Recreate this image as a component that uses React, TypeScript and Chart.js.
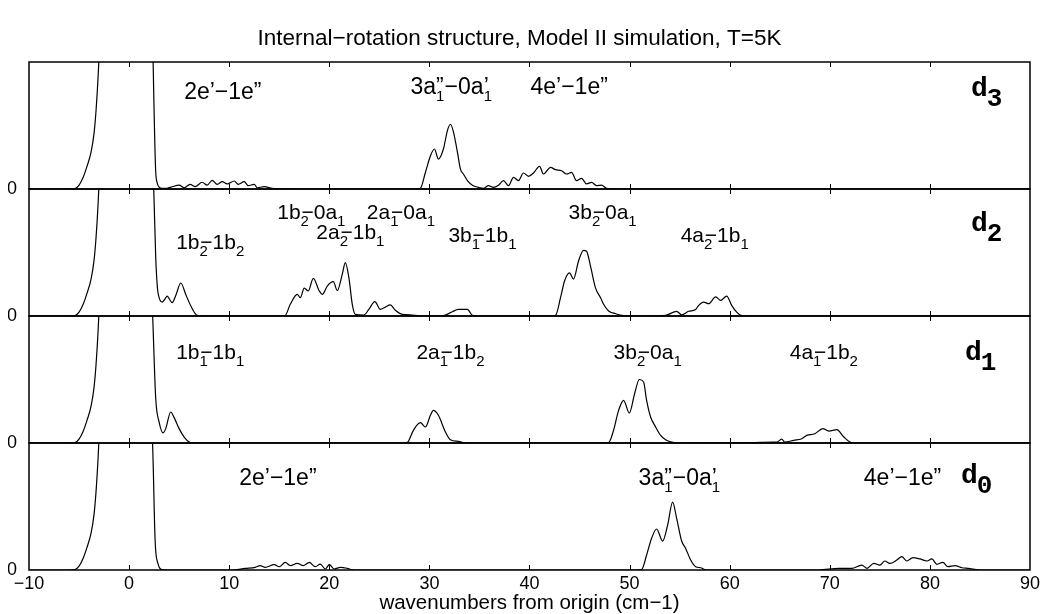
import React, { useEffect, useRef } from 'react';
import { Chart, registerables } from 'chart.js';

Chart.register(...registerables);

const SANS = "'Liberation Sans', Arial, Helvetica, sans-serif";
const MONO = "'Liberation Mono', 'DejaVu Sans Mono', monospace";

const titleText = 'Internal\u2212rotation structure, Model II simulation, T=5K';
const xAxisTitle = 'wavenumbers from origin (cm\u22121)';
const xTickValues = [-10, 0, 10, 20, 30, 40, 50, 60, 70, 80, 90];
const panelNames = ['d3', 'd2', 'd1', 'd0'];
const panelSubscripts = ['3', '2', '1', '0'];

// spectra: [wavenumber, intensity (fraction of panel height)]
const d3Spectrum: [number, number][] = [
  [-10, 0], [-6, 0], [-5.4, 0.004], [-5.0, 0.03], [-4.6, 0.09], [-4.2, 0.18], [-3.8, 0.29], [-3.5, 0.44],
  [-3.3, 0.62], [-3.1, 0.88], [-2.9, 1.25], [-2.5, 2.4], [0, 5], [1.8, 3], [2.3, 1.4], [2.5, 0.6],
  [2.65, 0.15], [2.8, 0.05], [3.0, 0.015], [3.3, 0.005], [3.8, 0.006], [4.3, 0.018], [5.0, 0.03], [5.5, 0.01],
  [6.1, 0.037], [6.6, 0.018], [7.3, 0.053], [7.8, 0.03], [8.3, 0.068], [8.8, 0.037], [9.3, 0.058], [9.8, 0.04],
  [10.5, 0.063], [10.9, 0.037], [11.5, 0.058], [11.9, 0.026], [12.5, 0.037], [12.8, 0.01], [13.5, 0.018],
  [14.3, 0.005], [15.0, 0.002], [18.0, 0], [28.6, 0], [29.1, 0.005], [29.6, 0.13], [30.1, 0.26], [30.5, 0.315],
  [30.9, 0.236], [31.4, 0.315], [31.8, 0.46], [32.1, 0.51], [32.4, 0.45], [32.8, 0.29], [33.1, 0.157],
  [33.4, 0.118], [33.8, 0.066], [34.3, 0.03], [34.9, 0.013], [35.4, 0.005], [35.9, 0.026], [36.4, 0.013],
  [36.9, 0.03], [37.4, 0.066], [37.9, 0.026], [38.4, 0.092], [38.9, 0.066], [39.4, 0.126], [39.9, 0.1],
  [40.4, 0.126], [41.0, 0.178], [41.4, 0.118], [42.1, 0.17], [42.6, 0.152], [43.2, 0.144], [43.7, 0.118],
  [44.2, 0.131], [44.7, 0.066], [45.2, 0.084], [45.7, 0.04], [46.2, 0.052], [46.7, 0.026], [47.2, 0.03],
  [47.7, 0.005], [48.6, 0], [90, 0],
];

const d2Spectrum: [number, number][] = [
  [-10, 0], [-6, 0], [-5.4, 0.004], [-5.0, 0.03], [-4.6, 0.09], [-4.2, 0.18], [-3.8, 0.29], [-3.5, 0.44],
  [-3.3, 0.62], [-3.1, 0.88], [-2.9, 1.25], [-2.5, 2.4], [0, 5], [1.8, 3], [2.3, 1.4], [2.5, 0.9],
  [2.66, 0.46], [2.83, 0.22], [3.0, 0.145], [3.3, 0.11], [3.55, 0.13], [3.8, 0.157], [4.05, 0.13], [4.3, 0.105],
  [4.7, 0.17], [5.16, 0.26], [5.66, 0.17], [6.16, 0.08], [6.8, 0.005], [7.5, 0], [15.0, 0], [15.57, 0.003],
  [16.1, 0.092], [16.8, 0.17], [17.1, 0.144], [17.5, 0.22], [17.9, 0.197], [18.4, 0.297], [19.0, 0.197],
  [19.3, 0.17], [19.8, 0.236], [20.4, 0.27], [20.8, 0.2], [21.3, 0.33], [21.6, 0.42], [21.96, 0.3], [22.3, 0.09],
  [22.6, 0.013], [23.45, 0.008], [23.95, 0.052], [24.55, 0.113], [25.1, 0.052], [25.6, 0.07], [26.1, 0.087],
  [26.6, 0.045], [27.3, 0.013], [28.3, 0.008], [29.5, 0], [31.0, 0], [31.6, 0.008], [32.3, 0.034], [32.9, 0.052],
  [33.8, 0.052], [34.3, 0.005], [35.0, 0], [42.2, 0], [42.6, 0.005], [43.1, 0.144], [43.5, 0.276], [44.0, 0.34],
  [44.4, 0.29], [44.9, 0.433], [45.4, 0.517], [45.7, 0.51], [46.1, 0.39], [46.6, 0.22], [47.1, 0.144],
  [47.4, 0.092], [47.9, 0.04], [48.6, 0.018], [49.2, 0.005], [50.0, 0], [52.0, 0], [53.6, 0.005], [54.7, 0.037],
  [55.2, 0.01], [55.9, 0.037], [56.6, 0.052], [56.9, 0.084], [57.4, 0.11], [57.9, 0.097], [58.6, 0.15],
  [59.1, 0.123], [59.7, 0.157], [60.2, 0.084], [60.7, 0.03], [61.2, 0.003], [62.0, 0], [90, 0],
];

const d1Spectrum: [number, number][] = [
  [-10, 0], [-6, 0], [-5.4, 0.004], [-5.0, 0.03], [-4.6, 0.09], [-4.2, 0.18], [-3.8, 0.29], [-3.5, 0.44],
  [-3.3, 0.62], [-3.1, 0.88], [-2.9, 1.25], [-2.5, 2.4], [0, 5], [1.8, 3], [2.2, 1.4], [2.4, 0.9],
  [2.66, 0.35], [3.0, 0.165], [3.4, 0.08], [3.66, 0.113], [4.16, 0.244], [4.5, 0.2], [5.0, 0.113], [5.5, 0.047],
  [6.0, 0.008], [6.5, 0], [27.3, 0], [27.8, 0.005], [28.4, 0.1], [29.1, 0.16], [29.6, 0.126], [30.1, 0.218],
  [30.4, 0.257], [30.9, 0.218], [31.6, 0.087], [32.1, 0.026], [32.9, 0.013], [33.6, 0], [47.4, 0], [47.9, 0.003],
  [48.4, 0.1], [48.9, 0.257], [49.4, 0.336], [49.97, 0.236], [50.5, 0.388], [50.97, 0.5], [51.4, 0.48],
  [51.7, 0.336], [52.1, 0.205], [52.6, 0.126], [53.1, 0.06], [53.6, 0.026], [54.2, 0.008], [55.0, 0],
  [62.2, 0.003], [64.2, 0.008], [64.7, 0.008], [65.2, 0.03], [65.5, 0.008], [66.4, 0.021], [67.2, 0.034],
  [67.7, 0.06], [68.5, 0.073], [69.3, 0.113], [69.9, 0.094], [70.7, 0.105], [71.4, 0.047], [72.0, 0.008],
  [72.6, 0], [90, 0],
];

const d0Spectrum: [number, number][] = [
  [-10, 0], [-6, 0], [-5.4, 0.004], [-5.0, 0.03], [-4.6, 0.09], [-4.2, 0.18], [-3.8, 0.29], [-3.5, 0.44],
  [-3.3, 0.62], [-3.1, 0.88], [-2.9, 1.25], [-2.5, 2.4], [0, 5], [1.8, 3], [2.2, 1.4], [2.4, 0.85],
  [2.6, 0.23], [2.9, 0.047], [3.3, 0.003], [3.8, 0], [10.3, 0], [11.6, 0.013], [12.6, 0.021], [13.1, 0.034],
  [13.6, 0.021], [14.5, 0.042], [15.0, 0.026], [15.6, 0.06], [16.1, 0.034], [16.8, 0.052], [17.4, 0.034],
  [18.0, 0.06], [18.6, 0.026], [19.1, 0.047], [19.6, 0.008], [20.0, 0.042], [20.5, 0.008], [21.1, 0.021],
  [21.8, 0.013], [22.3, 0.002], [23.0, 0], [50.7, 0], [51.2, 0.003], [51.7, 0.118], [52.2, 0.25], [52.7, 0.323],
  [53.3, 0.228], [53.8, 0.354], [54.3, 0.535], [54.7, 0.407], [55.2, 0.228], [55.6, 0.17], [56.1, 0.079],
  [56.6, 0.026], [57.1, 0.018], [57.6, 0.002], [58.5, 0], [68.9, 0], [70.9, 0.013], [72.2, 0.013],
  [73.2, 0.039], [73.7, 0.013], [74.4, 0.052], [75.0, 0.039], [75.5, 0.071], [76.0, 0.052], [76.7, 0.079],
  [77.2, 0.105], [77.7, 0.071], [78.3, 0.097], [79.0, 0.087], [79.7, 0.071], [80.2, 0.087], [80.7, 0.045],
  [81.3, 0.06], [81.8, 0.026], [82.5, 0.034], [83.2, 0.018], [83.8, 0.013], [85.2, 0], [90, 0],
];

const spectra = [d3Spectrum, d2Spectrum, d1Spectrum, d0Spectrum];

// transition labels: "_" = next char subscript, "^" = next char stacked above the preceding subscript
const d3Labels = ['2e\u2019\u22121e\u201D', '3a_1^\u201D\u22120a_1^\u2019', '4e\u2019\u22121e\u201D'];
const d2Labels = ['1b_2\u22121b_2', '1b_2\u22120a_1', '2a_1\u22120a_1', '2a_2\u22121b_1', '3b_1\u22121b_1', '3b_2\u22120a_1', '4a_2\u22121b_1'];
const d1Labels = ['1b_1\u22121b_1', '2a_1\u22121b_2', '3b_2\u22120a_1', '4a_1\u22121b_2'];
const d0Labels = ['2e\u2019\u22121e\u201D', '3a_1^\u201D\u22120a_1^\u2019', '4e\u2019\u22121e\u201D'];
const panelLabels = [d3Labels, d2Labels, d1Labels, d0Labels];

// label placement (left edge in cm-1, baseline as fraction of panel height) and font size per panel
const labelPlacement = [
  [[5.5, 0.71], [28.1, 0.745], [40.1, 0.745]],
  [[4.7, 0.53], [14.8, 0.766], [23.75, 0.766], [18.7, 0.61], [31.9, 0.586], [43.9, 0.766], [55.1, 0.586]],
  [[4.7, 0.664], [28.7, 0.664], [48.4, 0.664], [66.0, 0.664]],
  [[11.0, 0.67], [50.9, 0.67], [73.4, 0.67]],
];
const labelFontSize = [23, 21, 21, 23];
const tagPlacement = [[84.1, 0.736], [84.1, 0.67], [83.5, 0.65], [83.1, 0.685]];

const SUB_SIZE = 15;

function drawRich(ctx: CanvasRenderingContext2D, text: string, x: number, y: number, size: number) {
  const mainFont = `${size}px ${SANS}`;
  const subFont = `${SUB_SIZE}px ${SANS}`;
  let cx = x;
  let i = 0;
  while (i < text.length) {
    const c = text[i];
    if (c === '_') {
      const sub = text[i + 1];
      i += 2;
      let sup = '';
      if (text[i] === '^') {
        sup = text[i + 1];
        i += 2;
      }
      ctx.font = subFont;
      const sw = ctx.measureText(sub).width;
      ctx.fillText(sub, cx, y + 7);
      let adv = i >= text.length ? sw : sw * 0.1;
      if (sup) {
        ctx.font = mainFont;
        ctx.fillText(sup, cx, y);
        adv = Math.max(adv, ctx.measureText(sup).width + 1);
      }
      cx += adv;
    } else {
      ctx.font = mainFont;
      ctx.fillText(c, cx, y);
      cx += ctx.measureText(c).width;
      i += 1;
    }
  }
}

const decorPlugin = {
  id: 'panelDecor',
  afterDatasetsDraw(chart: any) {
    const ctx: CanvasRenderingContext2D = chart.ctx;
    const xs = chart.scales.x;
    ctx.save();
    ctx.strokeStyle = '#000';
    ctx.fillStyle = '#000';
    panelNames.forEach((id, p) => {
      const ys = chart.scales[id];
      ctx.lineWidth = 1.5;
      ctx.strokeRect(xs.left, ys.top, xs.right - xs.left, ys.bottom - ys.top);
      ctx.lineWidth = 1;
      ctx.beginPath();
      xs.ticks.forEach((t: any) => {
        if (t.value <= xs.min || t.value >= xs.max) return;
        const px = Math.round(xs.getPixelForValue(t.value)) + 0.5;
        ctx.moveTo(px, ys.bottom);
        ctx.lineTo(px, ys.bottom - 5);
        ctx.moveTo(px, ys.top);
        ctx.lineTo(px, ys.top + 5);
      });
      ctx.stroke();

      ctx.textBaseline = 'alphabetic';
      ctx.textAlign = 'left';
      panelLabels[p].forEach((txt, k) => {
        const [lx, ly] = labelPlacement[p][k];
        drawRich(ctx, txt, xs.getPixelForValue(lx), ys.getPixelForValue(ly), labelFontSize[p]);
      });

      const [tx, ty] = tagPlacement[p];
      const px = xs.getPixelForValue(tx);
      const py = ys.getPixelForValue(ty);
      ctx.font = `bold 28px ${MONO}`;
      ctx.fillText('d', px, py);
      const dw = ctx.measureText('d').width;
      ctx.font = `bold 26px ${MONO}`;
      ctx.fillText(panelSubscripts[p], px + dw - 1, py + 10);
    });
    ctx.restore();
  },
};

function yAxis() {
  return {
    type: 'linear' as const,
    position: 'left' as const,
    stack: 'panels',
    stackWeight: 1,
    min: 0,
    max: 1,
    afterBuildTicks: (s: any) => {
      s.ticks = [{ value: 0 }];
    },
    afterFit: (s: any) => {
      s.width = 21;
    },
    grid: { display: false, drawTicks: false },
    border: { display: false },
    ticks: {
      color: '#000',
      font: { family: SANS, size: 18 },
      padding: 12,
      callback: () => '0',
    },
  };
}

export default function App() {
  const canvasRef = useRef<HTMLCanvasElement | null>(null);

  useEffect(() => {
    if (!canvasRef.current) return;
    const scales: any = {
      x: {
        type: 'linear',
        position: 'bottom',
        min: -10,
        max: 90,
        afterBuildTicks: (s: any) => {
          s.ticks = xTickValues.map((v) => ({ value: v }));
        },
        afterFit: (s: any) => {
          s.height = 44;
        },
        grid: { display: false, drawTicks: false },
        border: { display: false },
        ticks: {
          color: '#000',
          font: { family: SANS, size: 18 },
          padding: 3,
          maxRotation: 0,
          autoSkip: false,
          callback: (v: any) => String(v).replace('-', '\u2212'),
        },
        title: {
          display: true,
          text: xAxisTitle,
          color: '#000',
          font: { family: SANS, size: 20.5 },
          padding: { top: 0, bottom: -2 },
        },
      },
    };
    // stacked axes are laid out bottom-up, so register the lowest panel first
    [...panelNames].reverse().forEach((id) => {
      scales[id] = yAxis();
    });

    const chart = new Chart(canvasRef.current, {
      type: 'line',
      data: {
        datasets: spectra.map((s, p) => ({
          label: panelNames[p],
          data: s.map(([x, y]) => ({ x, y })),
          xAxisID: 'x',
          yAxisID: panelNames[p],
          borderColor: '#000',
          borderWidth: 1.2,
          pointRadius: 0,
          fill: false,
          cubicInterpolationMode: 'monotone' as const,
        })),
      },
      options: {
        animation: false,
        responsive: false,
        devicePixelRatio: 1,
        layout: { padding: { left: 8, right: 12, top: 0, bottom: 0 } },
        scales,
        plugins: {
          legend: { display: false },
          tooltip: { enabled: false },
          title: {
            display: true,
            text: titleText,
            color: '#000',
            font: { family: SANS, size: 22.5, weight: 'normal' as const },
            padding: { top: 25, bottom: 10 },
          },
        },
      },
      plugins: [decorPlugin],
    });
    return () => chart.destroy();
  }, []);

  return (
    <div style={{ position: 'absolute', left: 0, top: 0, width: 1043, height: 614, background: '#fff' }}>
      <canvas ref={canvasRef} width={1043} height={614} />
    </div>
  );
}
